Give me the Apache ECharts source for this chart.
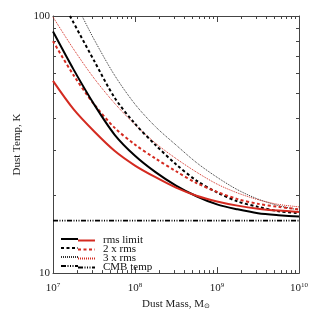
<!DOCTYPE html>
<html>
<head>
<meta charset="utf-8">
<script src="https://cdn.jsdelivr.net/npm/echarts@6/dist/echarts.min.js"></script>
<style>
html,body{margin:0;padding:0;background:#fff;}
#chart{width:315px;height:315px;}
</style>
</head>
<body>
<div id="chart"></div>
<script>
// ---- data ----
var masses = [1e7, 1.778e7, 3.162e7, 5.623e7, 1e8, 1.778e8, 3.162e8, 5.623e8, 1e9, 1.778e9, 3.162e9, 5.623e9, 1e10];
var rmsRed   = [55.9, 43.4, 35.6, 29.9, 26.2, 23.6, 21.5, 20.0, 19.0, 18.3, 17.8, 17.5, 17.3];
var rmsBlack = [87.0, 62.0, 45.4, 34.6, 28.6, 24.7, 21.9, 19.9, 18.5, 17.7, 17.1, 16.8, 16.6];
var rms2Red  = [79.8, 58.9, 45.4, 36.8, 31.6, 27.9, 24.9, 22.4, 20.7, 19.4, 18.6, 18.1, 17.7];
var rms3Red  = [99.1, 74.4, 57.3, 45.8, 37.8, 32.0, 27.9, 24.7, 22.2, 20.5, 19.3, 18.5, 18.1];
var massesBlack2 = [1.61e7, 3.162e7, 5.623e7, 1e8, 1.778e8, 3.162e8, 5.623e8, 1e9, 1.778e9, 3.162e9, 5.623e9, 1e10];
var rms2Black    = [100, 67.1, 48.2, 38.1, 31.5, 26.5, 22.9, 20.6, 19.0, 18.1, 17.4, 17.1];
var massesBlack3 = [2.26e7, 3.162e7, 5.623e7, 1e8, 1.778e8, 3.162e8, 5.623e8, 1e9, 1.778e9, 3.162e9, 5.623e9, 1e10];
var rms3Black    = [100, 81.2, 58.9, 45.4, 37.1, 31.5, 26.9, 23.6, 21.1, 19.4, 18.3, 17.6];
var cmbMasses = [1e7, 1e10];
var cmbTemp   = [16.0, 16.0];

var xMajor = [1e7, 1e8, 1e9, 1e10];
var xMinor = [2e7,3e7,4e7,5e7,6e7,7e7,8e7,9e7, 2e8,3e8,4e8,5e8,6e8,7e8,8e8,9e8, 2e9,3e9,4e9,5e9,6e9,7e9,8e9,9e9];
var yMajor = [10, 100];
var yMinor = [20, 30, 40, 50, 60, 70, 80, 90];

var legendNames = ['rms limit', '2 x rms', '3 x rms', 'CMB temp'];

function pairs(xs, ys){ return xs.map(function(x,i){ return [x, ys[i]]; }); }

var RED = '#d42a20';
var BLK = '#000000';
var FONT = 'Liberation Serif';
var AX = '#444';

function mkAxis(type, min, max, pos, ticks, len, showLine){
  return {
    type:type, logBase:10, min:min, max:max, position:pos, gridIndex:0,
    axisLine:{show:showLine, lineStyle:{color:AX, width:1}},
    axisTick:{show:true, inside:true, length:len, customValues:ticks, lineStyle:{color:AX, width:1}},
    axisLabel:{show:false},
    splitLine:{show:false}, minorTick:{show:false}
  };
}

var xMain = mkAxis('log', 1e7, 1e10, 'bottom', xMajor, 6, true);
xMain.name = 'Dust Mass, M{sub|\u2299}';
xMain.nameLocation = 'middle';
xMain.nameGap = 23;
xMain.nameTextStyle = {fontFamily:FONT, fontSize:11, color:'#222',
  rich:{sub:{fontFamily:'DejaVu Sans', fontSize:7, color:'#222', padding:[5,0,0,0]}}};
xMain.axisLabel = {show:true, customValues:xMajor, margin:9, color:'#222', fontFamily:FONT, fontSize:11,
  formatter:function(v){ return '{b|10}{s|' + Math.round(Math.log10(v)) + '}'; },
  rich:{b:{fontFamily:FONT, fontSize:11, color:'#222'},
        s:{fontFamily:FONT, fontSize:7, color:'#222', verticalAlign:'top', padding:[0,0,5,0]}}};

var yMain = mkAxis('log', 10, 100, 'left', yMajor, 6, true);
yMain.name = 'Dust Temp, K';
yMain.nameLocation = 'middle';
yMain.nameGap = 20;
yMain.nameRotate = 90;
yMain.nameTextStyle = {fontFamily:FONT, fontSize:11, color:'#222'};
yMain.axisLabel = {show:true, customValues:yMajor, margin:3, color:'#222', fontFamily:FONT, fontSize:11};

var rowCenters = [240, 249, 258, 267];
var blackNames = ['rms limit ', '2 x rms ', '3 x rms ', 'CMB temp'];
var legends = [];
for (var i = 0; i < 4; i++) {
  legends.push({
    data:[blackNames[i]], orient:'horizontal', left:60, top:rowCenters[i]-5,
    itemWidth:17, itemHeight:10, padding:0, selectedMode:false,
    formatter:function(){ return ''; },
    itemStyle:{color:'rgba(0,0,0,0)', borderWidth:0},
    textStyle:{fontFamily:FONT, fontSize:11, lineHeight:10}
  });
  legends.push({
    data:[legendNames[i]], orient:'horizontal', left:77, top:rowCenters[i]-5,
    itemWidth:17, itemHeight:10, padding:0, selectedMode:false,
    itemStyle:{color:'rgba(0,0,0,0)', borderWidth:0},
    textStyle:{fontFamily:FONT, fontSize:11, color:'#111', lineHeight:10, padding:[0,0,0,3]}
  });
}

var chart = echarts.init(document.getElementById('chart'), null, {renderer:'canvas'});

var SM = 0.3;
var option = {
  animation:false,
  backgroundColor:'#fff',
  grid:{left:53, right:16, top:16, bottom:34, containLabel:false},
  xAxis:[
    xMain,
    mkAxis('log', 1e7, 1e10, 'bottom', xMinor, 3, false),
    mkAxis('log', 1e7, 1e10, 'top', xMajor, 6, true),
    mkAxis('log', 1e7, 1e10, 'top', xMinor, 3, false)
  ],
  yAxis:[
    yMain,
    mkAxis('log', 10, 100, 'left', yMinor, 3, false),
    mkAxis('log', 10, 100, 'right', yMajor, 6, true),
    mkAxis('log', 10, 100, 'right', yMinor, 3, false)
  ],
  legend:legends,
  series:[
    {name:'CMB temp', type:'line', data:pairs(cmbMasses, cmbTemp), symbol:'none',
      lineStyle:{color:BLK, width:1.6, type:[5,1.5,1,1.5,1,1.5,1,1.5]}, itemStyle:{color:BLK}},
    {name:'3 x rms ', type:'line', data:pairs(massesBlack3, rms3Black), symbol:'none', smooth:SM,
      lineStyle:{color:'#333', width:1, type:[1,1]}, itemStyle:{color:'#333'}},
    {name:'3 x rms', type:'line', data:pairs(masses, rms3Red), symbol:'none', smooth:SM,
      lineStyle:{color:RED, width:1, type:[1,1]}, itemStyle:{color:RED}},
    {name:'2 x rms ', type:'line', data:pairs(massesBlack2, rms2Black), symbol:'none', smooth:SM,
      lineStyle:{color:BLK, width:2, type:[3,2.5]}, itemStyle:{color:BLK}},
    {name:'2 x rms', type:'line', data:pairs(masses, rms2Red), symbol:'none', smooth:SM,
      lineStyle:{color:RED, width:2, type:[3,2.5]}, itemStyle:{color:RED}},
    {name:'rms limit ', type:'line', data:pairs(masses, rmsBlack), symbol:'none', smooth:SM,
      lineStyle:{color:BLK, width:2, type:'solid'}, itemStyle:{color:BLK}},
    {name:'rms limit', type:'line', data:pairs(masses, rmsRed), symbol:'none', smooth:SM,
      lineStyle:{color:RED, width:2, type:'solid'}, itemStyle:{color:RED}}
  ]
};
chart.setOption(option);
</script>
</body>
</html>
